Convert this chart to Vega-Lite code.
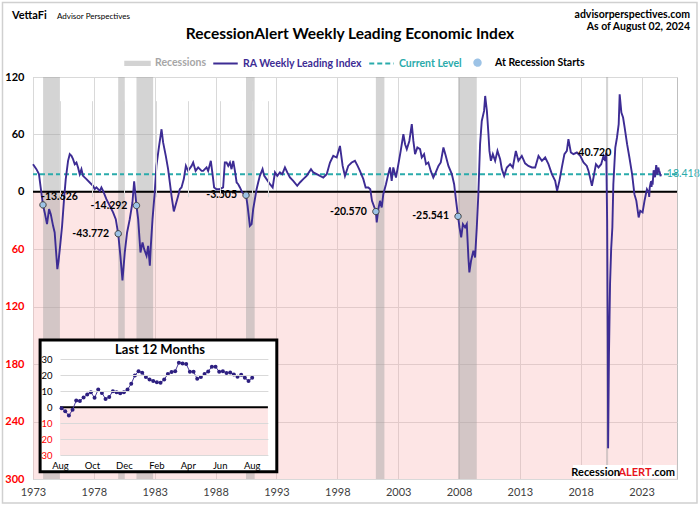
{
"$schema": "https://vega.github.io/schema/vega-lite/v6.json",
"autosize": {"type": "none"},
"padding": {"left": 33, "top": 77, "right": 23, "bottom": 28},
"width": 644,
"height": 402,
"background": "white",
"config": {
  "view": {"stroke": "#bfbfbf", "strokeWidth": 1},
  "text": {"font": "Lato"},
  "axis": {"labelFont": "Lato"},
  "legend": {"labelFont": "Lato"}
},
"datasets": {
  "rec": [
    {"s": 1973.83, "e": 1975.21},
    {"s": 1980.0, "e": 1980.54},
    {"s": 1981.5, "e": 1982.87},
    {"s": 1990.5, "e": 1991.21},
    {"s": 2001.17, "e": 2001.87},
    {"s": 2007.92, "e": 2009.46},
    {"s": 2020.08, "e": 2020.25}
  ],
  "starts": [
    {"t": 1973.82, "v": -13.626},
    {"t": 1980.0, "v": -43.772},
    {"t": 1981.5, "v": -14.292},
    {"t": 1990.5, "v": -3.505},
    {"t": 2001.17, "v": -20.57},
    {"t": 2007.92, "v": -25.541},
    {"t": 2020.1, "v": 40.72}
  ],
  "wli": [
    {"t":1973.0,"v":28.9},{"t":1973.28,"v":23.7},{"t":1973.49,"v":18.5},{"t":1973.63,"v":4.6},{"t":1973.82,"v":-13.626},
    {"t":1973.96,"v":-21.5},{"t":1974.15,"v":-33.7},{"t":1974.32,"v":-18.0},{"t":1974.46,"v":-23.3},{"t":1974.65,"v":-35.5},
    {"t":1974.78,"v":-42.4},{"t":1974.92,"v":-66.8},{"t":1975.0,"v":-80.7},{"t":1975.1,"v":-72.0},{"t":1975.2,"v":-60.0},
    {"t":1975.39,"v":-35.5},{"t":1975.55,"v":-7.6},{"t":1975.69,"v":13.3},{"t":1975.88,"v":32.4},{"t":1976.02,"v":39.4},
    {"t":1976.16,"v":37.6},{"t":1976.29,"v":34.1},{"t":1976.43,"v":28.9},{"t":1976.57,"v":30.7},{"t":1976.7,"v":25.5},
    {"t":1976.84,"v":18.5},{"t":1976.98,"v":23.7},{"t":1977.11,"v":16.7},{"t":1977.39,"v":13.3},{"t":1977.66,"v":9.8},
    {"t":1977.93,"v":6.3},{"t":1978.07,"v":2.8},{"t":1978.21,"v":4.6},{"t":1978.49,"v":1.0},{"t":1978.62,"v":4.6},
    {"t":1978.76,"v":1.0},{"t":1979.03,"v":-7.6},{"t":1979.31,"v":-14.6},{"t":1979.58,"v":-21.5},{"t":1979.8,"v":-28.5},
    {"t":1980.0,"v":-43.772},{"t":1980.18,"v":-66.8},{"t":1980.35,"v":-92.5},{"t":1980.54,"v":-63.3},{"t":1980.73,"v":-42.4},
    {"t":1980.95,"v":-28.5},{"t":1981.17,"v":-11.1},{"t":1981.31,"v":11.0},{"t":1981.5,"v":-14.292},{"t":1981.64,"v":-28.5},
    {"t":1981.83,"v":-63.3},{"t":1982.0,"v":-52.8},{"t":1982.13,"v":-59.8},{"t":1982.33,"v":-66.8},{"t":1982.46,"v":-56.4},
    {"t":1982.6,"v":-77.2},{"t":1982.68,"v":-56.4},{"t":1982.82,"v":-28.5},{"t":1983.0,"v":-0.6},{"t":1983.14,"v":27.1},
    {"t":1983.36,"v":48.0},{"t":1983.56,"v":65.4},{"t":1983.69,"v":51.6},{"t":1983.91,"v":37.6},{"t":1984.1,"v":23.7},
    {"t":1984.24,"v":9.8},{"t":1984.38,"v":-4.2},{"t":1984.57,"v":-20.5},{"t":1984.74,"v":-12.8},{"t":1984.93,"v":-4.2},
    {"t":1985.06,"v":2.8},{"t":1985.2,"v":4.6},{"t":1985.39,"v":13.3},{"t":1985.56,"v":27.1},{"t":1985.74,"v":21.9},
    {"t":1986.03,"v":27.1},{"t":1986.16,"v":30.7},{"t":1986.36,"v":21.9},{"t":1986.57,"v":25.5},{"t":1986.85,"v":21.9},
    {"t":1986.98,"v":21.9},{"t":1987.26,"v":25.5},{"t":1987.39,"v":21.9},{"t":1987.61,"v":32.4},{"t":1987.75,"v":18.5},
    {"t":1987.88,"v":4.6},{"t":1988.08,"v":2.8},{"t":1988.35,"v":2.8},{"t":1988.62,"v":4.6},{"t":1988.76,"v":30.7},
    {"t":1988.9,"v":30.7},{"t":1989.04,"v":27.1},{"t":1989.18,"v":30.7},{"t":1989.31,"v":23.7},{"t":1989.45,"v":32.4},
    {"t":1989.59,"v":21.9},{"t":1989.73,"v":9.8},{"t":1989.86,"v":8.0},{"t":1990.0,"v":4.6},{"t":1990.19,"v":-0.6},
    {"t":1990.5,"v":-3.505},{"t":1990.63,"v":-14.6},{"t":1990.82,"v":-35.5},{"t":1990.96,"v":-33.7},{"t":1991.09,"v":-18.0},
    {"t":1991.23,"v":-7.6},{"t":1991.37,"v":2.8},{"t":1991.5,"v":9.8},{"t":1991.64,"v":16.7},{"t":1991.86,"v":23.7},
    {"t":1992.0,"v":16.7},{"t":1992.19,"v":13.3},{"t":1992.47,"v":8.0},{"t":1992.69,"v":4.6},{"t":1992.88,"v":20.3},
    {"t":1993.07,"v":16.7},{"t":1993.29,"v":20.3},{"t":1993.48,"v":18.5},{"t":1993.7,"v":25.5},{"t":1993.89,"v":20.3},
    {"t":1994.11,"v":15.0},{"t":1994.38,"v":11.5},{"t":1994.71,"v":6.3},{"t":1994.93,"v":9.8},{"t":1995.2,"v":13.3},
    {"t":1995.48,"v":16.7},{"t":1995.84,"v":23.7},{"t":1996.03,"v":20.3},{"t":1996.31,"v":18.5},{"t":1996.58,"v":16.7},
    {"t":1996.85,"v":15.0},{"t":1997.13,"v":18.5},{"t":1997.4,"v":30.7},{"t":1997.67,"v":37.6},{"t":1997.95,"v":35.9},
    {"t":1998.22,"v":48.0},{"t":1998.44,"v":27.1},{"t":1998.63,"v":16.7},{"t":1998.9,"v":27.1},{"t":1999.18,"v":30.7},
    {"t":1999.45,"v":32.4},{"t":1999.67,"v":27.1},{"t":1999.86,"v":21.9},{"t":2000.14,"v":13.3},{"t":2000.33,"v":4.6},
    {"t":2000.55,"v":4.6},{"t":2000.71,"v":2.8},{"t":2000.85,"v":-9.4},{"t":2001.17,"v":-20.57},{"t":2001.24,"v":-32.0},
    {"t":2001.37,"v":-18.0},{"t":2001.51,"v":-9.4},{"t":2001.65,"v":-16.3},{"t":2001.78,"v":-2.4},{"t":2002.0,"v":8.0},
    {"t":2002.19,"v":18.5},{"t":2002.33,"v":25.5},{"t":2002.47,"v":11.5},{"t":2002.6,"v":25.5},{"t":2002.82,"v":15.0},
    {"t":2003.02,"v":28.9},{"t":2003.21,"v":42.8},{"t":2003.43,"v":60.2},{"t":2003.57,"v":49.8},{"t":2003.71,"v":44.6},
    {"t":2003.92,"v":53.2},{"t":2004.12,"v":70.7},{"t":2004.25,"v":53.2},{"t":2004.39,"v":39.4},{"t":2004.58,"v":46.3},
    {"t":2004.8,"v":44.6},{"t":2004.94,"v":35.9},{"t":2005.13,"v":39.4},{"t":2005.29,"v":28.9},{"t":2005.48,"v":30.7},
    {"t":2005.68,"v":21.9},{"t":2005.89,"v":15.0},{"t":2006.09,"v":20.3},{"t":2006.31,"v":27.1},{"t":2006.5,"v":30.7},
    {"t":2006.72,"v":46.3},{"t":2006.91,"v":37.6},{"t":2007.13,"v":27.1},{"t":2007.41,"v":18.5},{"t":2007.6,"v":8.0},
    {"t":2007.76,"v":-9.4},{"t":2007.92,"v":-25.541},{"t":2008.04,"v":-37.2},{"t":2008.18,"v":-47.6},{"t":2008.32,"v":-33.7},
    {"t":2008.5,"v":-37.2},{"t":2008.64,"v":-33.7},{"t":2008.77,"v":-68.5},{"t":2008.85,"v":-84.1},{"t":2008.99,"v":-72.0},
    {"t":2009.18,"v":-61.6},{"t":2009.32,"v":-68.5},{"t":2009.46,"v":-37.2},{"t":2009.59,"v":-2.4},{"t":2009.73,"v":49.8},
    {"t":2009.87,"v":74.1},{"t":2010.06,"v":84.6},{"t":2010.15,"v":100.2},{"t":2010.29,"v":84.6},{"t":2010.42,"v":60.2},
    {"t":2010.5,"v":42.8},{"t":2010.62,"v":32.4},{"t":2010.78,"v":39.4},{"t":2010.97,"v":32.4},{"t":2011.16,"v":42.8},
    {"t":2011.38,"v":34.1},{"t":2011.52,"v":23.7},{"t":2011.71,"v":16.7},{"t":2011.93,"v":25.5},{"t":2012.2,"v":28.9},
    {"t":2012.42,"v":25.5},{"t":2012.67,"v":42.8},{"t":2012.88,"v":32.4},{"t":2013.16,"v":37.6},{"t":2013.43,"v":29.8},
    {"t":2013.7,"v":27.1},{"t":2013.99,"v":25.5},{"t":2014.26,"v":25.5},{"t":2014.53,"v":37.6},{"t":2014.81,"v":32.4},
    {"t":2015.08,"v":35.9},{"t":2015.35,"v":28.9},{"t":2015.63,"v":18.5},{"t":2015.9,"v":11.5},{"t":2016.06,"v":1.0},
    {"t":2016.25,"v":11.5},{"t":2016.45,"v":25.5},{"t":2016.66,"v":39.4},{"t":2016.86,"v":42.8},{"t":2016.99,"v":55.0},
    {"t":2017.19,"v":41.1},{"t":2017.4,"v":39.4},{"t":2017.68,"v":41.1},{"t":2017.96,"v":37.6},{"t":2018.23,"v":30.7},
    {"t":2018.5,"v":27.1},{"t":2018.64,"v":21.9},{"t":2018.92,"v":6.3},{"t":2019.05,"v":15.0},{"t":2019.25,"v":28.9},
    {"t":2019.46,"v":25.5},{"t":2019.68,"v":28.9},{"t":2019.87,"v":37.6},{"t":2020.01,"v":32.4},{"t":2020.1,"v":40.72},
    {"t":2020.17,"v":-30.0},{"t":2020.22,"v":-150.0},{"t":2020.25,"v":-268.0},{"t":2020.32,"v":-170.0},{"t":2020.41,"v":-96.0},
    {"t":2020.5,"v":-60.0},{"t":2020.6,"v":-37.0},{"t":2020.68,"v":8.0},{"t":2020.84,"v":46.3},{"t":2020.98,"v":56.8},
    {"t":2021.12,"v":70.7},{"t":2021.2,"v":102.0},{"t":2021.34,"v":82.9},{"t":2021.48,"v":77.7},{"t":2021.61,"v":67.2},
    {"t":2021.81,"v":49.8},{"t":2022.0,"v":35.9},{"t":2022.22,"v":18.5},{"t":2022.41,"v":-2.4},{"t":2022.57,"v":-9.4},
    {"t":2022.76,"v":-26.7},{"t":2022.89,"v":-19.8},{"t":2023.08,"v":-21.5},{"t":2023.24,"v":-9.4},{"t":2023.44,"v":2.8},
    {"t":2023.589,"v":-0.6},{"t":2023.627,"v":-5.2},{"t":2023.666,"v":4.2},{"t":2023.742,"v":9.4},{"t":2023.781,"v":11.1},
    {"t":2023.819,"v":5.2},{"t":2023.858,"v":10.1},{"t":2023.916,"v":9.4},{"t":2023.973,"v":19.9},{"t":2023.992,"v":22.6},
    {"t":2024.05,"v":17.4},{"t":2024.107,"v":15.3},{"t":2024.145,"v":20.8},{"t":2024.202,"v":27.9},{"t":2024.278,"v":22.2},
    {"t":2024.298,"v":17.8},{"t":2024.375,"v":25.4},{"t":2024.432,"v":22.6},{"t":2024.489,"v":20.5},{"t":2024.566,"v":16.4},
    {"t":2024.585,"v":18.418}
  ],
  "last12": [
    {"d":"2023-08-04","v":-0.6},{"d":"2023-08-11","v":-2.5},{"d":"2023-08-18","v":-5.2},
    {"d":"2023-08-25","v":-1.5},{"d":"2023-09-01","v":4.2},{"d":"2023-09-08","v":4.0},{"d":"2023-09-15","v":6.1},
    {"d":"2023-09-22","v":8.0},{"d":"2023-09-29","v":9.4},{"d":"2023-10-06","v":5.9},{"d":"2023-10-13","v":11.1},
    {"d":"2023-10-20","v":9.0},{"d":"2023-10-27","v":5.2},{"d":"2023-11-03","v":6.5},{"d":"2023-11-10","v":10.1},
    {"d":"2023-11-17","v":9.4},{"d":"2023-11-24","v":8.8},{"d":"2023-12-01","v":9.4},{"d":"2023-12-08","v":11.1},
    {"d":"2023-12-15","v":14.7},{"d":"2023-12-22","v":19.9},{"d":"2023-12-29","v":22.6},{"d":"2024-01-05","v":21.6},
    {"d":"2024-01-12","v":18.9},{"d":"2024-01-19","v":17.4},{"d":"2024-01-26","v":16.4},{"d":"2024-02-02","v":15.7},
    {"d":"2024-02-09","v":15.3},{"d":"2024-02-16","v":17.4},{"d":"2024-02-23","v":20.8},{"d":"2024-03-01","v":22.0},
    {"d":"2024-03-08","v":22.6},{"d":"2024-03-15","v":27.9},{"d":"2024-03-22","v":27.3},{"d":"2024-03-29","v":27.0},
    {"d":"2024-04-05","v":22.2},{"d":"2024-04-12","v":22.2},{"d":"2024-04-19","v":17.8},{"d":"2024-04-26","v":18.9},
    {"d":"2024-05-03","v":20.8},{"d":"2024-05-10","v":22.4},{"d":"2024-05-17","v":25.4},{"d":"2024-05-24","v":25.4},
    {"d":"2024-05-31","v":22.2},{"d":"2024-06-07","v":22.6},{"d":"2024-06-14","v":21.4},{"d":"2024-06-21","v":21.8},
    {"d":"2024-06-28","v":20.5},{"d":"2024-07-05","v":19.1},{"d":"2024-07-12","v":20.3},{"d":"2024-07-19","v":18.4},
    {"d":"2024-07-26","v":16.4},{"d":"2024-08-02","v":18.418}
  ]
},
"layer": [
  {"layer": [
    {"data": {"values": [{}]},
     "mark": {"type": "rect", "color": "#f9a8a8", "opacity": 0.3},
     "encoding": {
       "y": {"datum": 0, "type": "quantitative",
             "scale": {"domain": [-300, 120], "nice": false, "zero": false},
             "axis": {"values": [-300, -240, -180, -120, -60, 0, 60, 120], "labelExpr": "'' + abs(datum.value)",
                      "labelColor": {"condition": {"test": "datum.value < 0", "value": "#ff0000"}, "value": "#000000"},
                      "labelFontWeight": "bold", "labelFontSize": 11, "labelPadding": 9, "ticks": false, "domain": false,
                      "grid": true, "gridColor": "#d9d9d9", "title": null}},
       "y2": {"datum": -300}
     }},
    {"data": {"name": "rec"},
     "mark": {"type": "rect", "color": "#a0a0a0", "opacity": 0.45},
     "encoding": {
       "x": {"field": "s", "type": "quantitative",
             "scale": {"domain": [1973, 2025.91], "nice": false, "zero": false},
             "axis": {"values": [1973, 1978, 1983, 1988, 1993, 1998, 2003, 2008, 2013, 2018, 2023], "format": "d",
                      "labelFlush": false, "labelOverlap": false, "ticks": false, "domain": false, "grid": true,
                      "gridColor": "#d9d9d9", "labelColor": "#404040", "labelFontSize": 11, "labelPadding": 7, "title": null}},
       "x2": {"field": "e"}
     }},
    {"data": {"values": [{}]},
     "mark": {"type": "rule", "color": "#000000", "strokeWidth": 2},
     "encoding": {"y": {"datum": 0, "type": "quantitative"}}},
    {"data": {"name": "wli"},
     "transform": [{"filter": "datum.t > 2024.58"}],
     "mark": {"type": "rule", "strokeWidth": 2},
     "encoding": {"y": {"field": "v", "type": "quantitative"},
                  "color": {"datum": "Current Level", "type": "nominal"},
                  "strokeDash": {"datum": "Current Level", "type": "nominal",
                                 "scale": {"domain": ["Recessions", "RA Weekly Leading Index", "Current Level", "At Recession Starts"],
                                           "range": [[1, 0], [1, 0], [5, 3], [1, 0]]}}}},
    {"data": {"name": "wli"},
     "mark": {"type": "line", "strokeWidth": 1.9},
     "encoding": {"x": {"field": "t", "type": "quantitative"}, "y": {"field": "v", "type": "quantitative"},
                  "color": {"datum": "RA Weekly Leading Index", "type": "nominal",
                            "scale": {"domain": ["Recessions", "RA Weekly Leading Index", "Current Level", "At Recession Starts"],
                                      "range": ["#d3d3d3", "#3d2c94", "#2aabab", "#9dc3e6"]},
                            "legend": {"orient": "none", "legendX": 91, "legendY": -28, "direction": "horizontal", "title": null,
                                       "symbolSize": 600, "symbolStrokeWidth": 2, "symbolOpacity": 1,
                                       "labelFontSize": 10.5, "labelFontWeight": "bold", "labelOffset": 4, "columnPadding": 2,
                                       "labelColor": {"expr": "datum.value === 'Recessions' ? '#a6a6a6' : datum.value === 'RA Weekly Leading Index' ? '#3d2c94' : datum.value === 'Current Level' ? '#2aabab' : '#000000'"}}}}},
    {"data": {"name": "starts"},
     "transform": [{"filter": "datum.t < 2020"}],
     "mark": {"type": "point", "filled": true, "size": 600, "stroke": "#404040", "strokeWidth": 1, "opacity": 1},
     "encoding": {"x": {"field": "t", "type": "quantitative"}, "y": {"field": "v", "type": "quantitative"},
                  "color": {"datum": "At Recession Starts", "type": "nominal"},
                  "shape": {"datum": "At Recession Starts", "type": "nominal",
                            "scale": {"domain": ["Recessions", "RA Weekly Leading Index", "Current Level", "At Recession Starts"],
                                      "range": ["M-1,-0.14H1V0.14H-1Z", "stroke", "stroke", "M-0.26,0A0.26,0.26 0 1,0 0.26,0A0.26,0.26 0 1,0 -0.26,0Z"]}}}},
    {"data": {"name": "starts"},
     "transform": [{"filter": "datum.t < 1975"}, {"calculate": "replace(format(datum.v, '.3f'), '\u2212', '-')", "as": "lbl"}],
     "mark": {"type": "text", "align": "left", "dx": -2, "dy": -8, "fontWeight": "bold", "fontSize": 10.5, "color": "#000000"},
     "encoding": {"x": {"field": "t", "type": "quantitative"}, "y": {"field": "v", "type": "quantitative"}, "text": {"field": "lbl"}}},
    {"data": {"name": "starts"},
     "transform": [{"filter": "datum.t > 1975 && datum.t < 2020"}, {"calculate": "replace(format(datum.v, '.3f'), '\u2212', '-')", "as": "lbl"}],
     "mark": {"type": "text", "align": "right", "dx": -9, "fontWeight": "bold", "fontSize": 10.5, "color": "#000000"},
     "encoding": {"x": {"field": "t", "type": "quantitative"}, "y": {"field": "v", "type": "quantitative"}, "text": {"field": "lbl"}}},
    {"data": {"name": "starts"},
     "transform": [{"filter": "datum.t > 2020"}, {"calculate": "format(datum.v, '.3f')", "as": "lbl"}],
     "mark": {"type": "text", "align": "right", "dx": 5, "fontWeight": "bold", "fontSize": 10.5, "color": "#000000"},
     "encoding": {"x": {"field": "t", "type": "quantitative"}, "y": {"field": "v", "type": "quantitative"}, "text": {"field": "lbl"}}},
    {"data": {"name": "wli"},
     "transform": [{"filter": "datum.t > 2024.58"}, {"calculate": "format(datum.v, '.3f')", "as": "lbl"}],
     "mark": {"type": "text", "align": "left", "dx": 6, "fontSize": 10.5, "color": "#2aabab"},
     "encoding": {"x": {"field": "t", "type": "quantitative"}, "y": {"field": "v", "type": "quantitative"}, "text": {"field": "lbl"}}},
    {"data": {"values": [{}]},
     "mark": {"type": "rect", "color": "#ffffff", "opacity": 1},
     "encoding": {"x": {"datum": 2017.37, "type": "quantitative"}, "x2": {"datum": 2025.87},
                  "y": {"datum": -285.4, "type": "quantitative"}, "y2": {"datum": -299.6}}},
    {"data": {"values": [{}]},
     "mark": {"type": "text", "align": "right", "baseline": "alphabetic", "fontWeight": "bold", "fontSize": 11, "color": "#000000", "text": ".com"},
     "encoding": {"x": {"datum": 2025.745, "type": "quantitative"}, "y": {"datum": -297, "type": "quantitative"}}},
    {"data": {"values": [{}]},
     "mark": {"type": "text", "align": "right", "baseline": "alphabetic", "fontWeight": "bold", "fontSize": 11, "color": "#e8141b", "text": "ALERT", "dx": -23.4},
     "encoding": {"x": {"datum": 2025.745, "type": "quantitative"}, "y": {"datum": -297, "type": "quantitative"}}},
    {"data": {"values": [{}]},
     "mark": {"type": "text", "align": "right", "baseline": "alphabetic", "fontWeight": "bold", "fontSize": 11, "color": "#000000", "text": "Recession", "dx": -55},
     "encoding": {"x": {"datum": 2025.745, "type": "quantitative"}, "y": {"datum": -297, "type": "quantitative"}}},
    {"data": {"values": [{}]},
     "mark": {"type": "text", "align": "center", "baseline": "middle", "fontWeight": "bold", "fontSize": 15.5, "color": "#000000", "text": "RecessionAlert Weekly Leading Economic Index"},
     "encoding": {"x": {"datum": 1999.044, "type": "quantitative"}, "y": {"datum": 164.93, "type": "quantitative"}}},
    {"data": {"values": [{}]},
     "mark": {"type": "text", "align": "left", "baseline": "middle", "fontWeight": "bold", "fontSize": 11, "color": "#000000", "text": "VettaFi"},
     "encoding": {"x": {"datum": 1971.275, "type": "quantitative"}, "y": {"datum": 183.7, "type": "quantitative"}}},
    {"data": {"values": [{}]},
     "mark": {"type": "text", "align": "left", "baseline": "middle", "fontSize": 8, "color": "#000000", "text": "Advisor Perspectives"},
     "encoding": {"x": {"datum": 1974.972, "type": "quantitative"}, "y": {"datum": 182.69, "type": "quantitative"}}},
    {"data": {"values": [{}]},
     "mark": {"type": "text", "align": "right", "baseline": "middle", "fontWeight": "bold", "fontSize": 10.5, "color": "#000000", "text": "advisorperspectives.com"},
     "encoding": {"x": {"datum": 2026.978, "type": "quantitative"}, "y": {"datum": 184.78, "type": "quantitative"}}},
    {"data": {"values": [{}]},
     "mark": {"type": "text", "align": "right", "baseline": "middle", "fontWeight": "bold", "fontSize": 10.5, "color": "#000000", "text": "As of August 02, 2024"},
     "encoding": {"x": {"datum": 2026.978, "type": "quantitative"}, "y": {"datum": 171.72, "type": "quantitative"}}},
    {"data": {"values": [{}]},
     "mark": {"type": "rect", "fill": "transparent", "stroke": "#d0d0d0", "strokeWidth": 1.5},
     "encoding": {"x": {"datum": 1970.494, "type": "quantitative"}, "x2": {"datum": 2027.553},
                  "y": {"datum": 197.84, "type": "quantitative"}, "y2": {"datum": -325.08}}}
  ]},
  {"layer": [
    {"data": {"values": [{}]},
     "mark": {"type": "rect", "fill": "#ffffff", "stroke": "#000000", "strokeWidth": 3},
     "encoding": {
       "x": {"datum": {"year": 2023, "month": 6, "date": 24, "utc": true}, "type": "temporal",
             "scale": {"type": "utc", "domain": [{"year": 2023, "month": 8, "date": 1, "utc": true}, {"year": 2024, "month": 9, "date": 1, "utc": true}], "range": [27, 234.9], "nice": false},
             "axis": {"orient": "bottom", "offset": -23.7, "zindex": 1,
                      "values": [{"year": 2023, "month": 8, "date": 1, "utc": true}, {"year": 2023, "month": 10, "date": 1, "utc": true},
                                 {"year": 2023, "month": 12, "date": 1, "utc": true}, {"year": 2024, "month": 2, "date": 1, "utc": true},
                                 {"year": 2024, "month": 4, "date": 1, "utc": true}, {"year": 2024, "month": 6, "date": 1, "utc": true},
                                 {"year": 2024, "month": 8, "date": 1, "utc": true}, {"year": 2024, "month": 9, "date": 1, "utc": true}],
                      "labelExpr": "utcmonth(datum.value) === 8 ? '' : utcFormat(datum.value, '%b')",
                      "labelFlush": false, "labelOverlap": false, "ticks": false, "domain": false, "grid": true, "gridColor": "#d9d9d9",
                      "labelFontSize": 9.5, "labelColor": "#000000", "labelPadding": 5, "title": null}},
       "x2": {"datum": {"year": 2024, "month": 9, "date": 18, "utc": true}},
       "y": {"datum": 42.06, "type": "quantitative",
             "scale": {"domain": [-30, 30], "range": [378.3, 282.3], "nice": false, "zero": false},
             "axis": {"orient": "left", "offset": -27, "zindex": 1, "values": [-30, -20, -10, 0, 10, 20, 30],
                      "labelExpr": "'' + abs(datum.value)",
                      "labelColor": {"condition": {"test": "datum.value < 0", "value": "#ff0000"}, "value": "#000000"},
                      "gridColor": {"condition": {"test": "datum.value === 0", "value": "transparent"}, "value": "#d9d9d9"},
                      "labelFontSize": 9.5, "labelPadding": 8, "ticks": false, "domain": false, "grid": true, "title": null}},
       "y2": {"datum": -40.25}
     }},
    {"data": {"values": [{}]},
     "mark": {"type": "rect", "color": "#f9a8a8", "opacity": 0.3},
     "encoding": {
       "x": {"datum": {"year": 2023, "month": 8, "date": 1, "utc": true}, "type": "temporal"},
       "x2": {"datum": {"year": 2024, "month": 9, "date": 1, "utc": true}},
       "y": {"datum": 0, "type": "quantitative"}, "y2": {"datum": -30}}},
    {"data": {"values": [{}]},
     "mark": {"type": "rule", "color": "#000000", "strokeWidth": 2},
     "encoding": {
       "x": {"datum": {"year": 2023, "month": 8, "date": 1, "utc": true}, "type": "temporal"},
       "x2": {"datum": {"year": 2024, "month": 9, "date": 1, "utc": true}},
       "y": {"datum": 0, "type": "quantitative"}}},
    {"data": {"name": "last12"},
     "mark": {"type": "line", "color": "#4b3c9c", "strokeWidth": 1, "point": {"filled": true, "size": 16, "color": "#2d1f80"}},
     "encoding": {"x": {"field": "d", "type": "temporal"}, "y": {"field": "v", "type": "quantitative"}}},
    {"data": {"values": [{}]},
     "mark": {"type": "text", "align": "center", "baseline": "middle", "fontWeight": "bold", "fontSize": 13, "color": "#000000", "text": "Last 12 Months"},
     "encoding": {
       "x": {"datum": {"year": 2024, "month": 2, "date": 8, "utc": true}, "type": "temporal"},
       "y": {"datum": 35.8, "type": "quantitative"}}}
  ]}
],
"resolve": {"scale": {"x": "independent", "y": "independent"}, "axis": {"x": "independent", "y": "independent"}}
}
